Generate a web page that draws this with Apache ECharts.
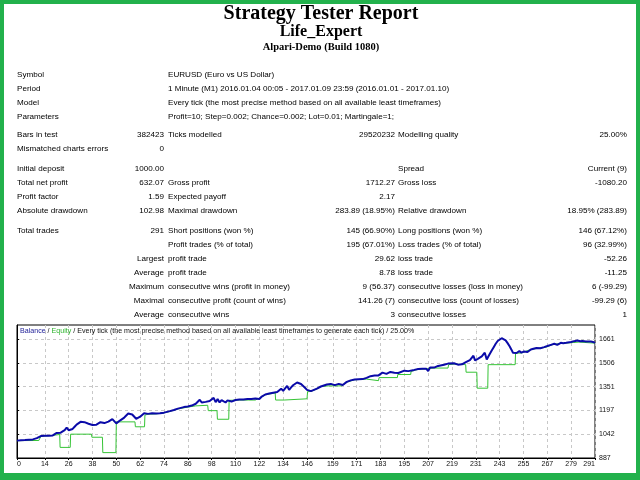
<!DOCTYPE html>
<html>
<head>
<meta charset="utf-8">
<title>Strategy Tester Report</title>
<script src="https://cdn.jsdelivr.net/npm/echarts@6/dist/echarts.min.js"></script>
<style>
    html, body { margin: 0; padding: 0; background: #fff; }
    #report { width: 640px; height: 480px; }
</style>
</head>
<body>
<div id="report"></div>
<script>
// Report header
const headerLines = ['Strategy Tester Report', 'Life_Expert', 'Alpari-Demo (Build 1080)'];

// Settings block: label / value
const settingsRows = [
    ['Symbol', 'EURUSD (Euro vs US Dollar)'],
    ['Period', '1 Minute (M1) 2016.01.04 00:05 - 2017.01.09 23:59 (2016.01.01 - 2017.01.10)'],
    ['Model', 'Every tick (the most precise method based on all available least timeframes)'],
    ['Parameters', 'Profit=10; Step=0.002; Chance=0.002; Lot=0.01; Martingale=1;']
];

// Results blocks: 6 columns (label, value, label, value, label, value)
const testRows = [
    ['Bars in test', '382423', 'Ticks modelled', '29520232', 'Modelling quality', '25.00%'],
    ['Mismatched charts errors', '0', '', '', '', '']
];
const profitRows = [
    ['Initial deposit', '1000.00', '', '', 'Spread', 'Current (9)'],
    ['Total net profit', '632.07', 'Gross profit', '1712.27', 'Gross loss', '-1080.20'],
    ['Profit factor', '1.59', 'Expected payoff', '2.17', '', ''],
    ['Absolute drawdown', '102.98', 'Maximal drawdown', '283.89 (18.95%)', 'Relative drawdown', '18.95% (283.89)']
];
const tradeRows = [
    ['Total trades', '291', 'Short positions (won %)', '145 (66.90%)', 'Long positions (won %)', '146 (67.12%)'],
    ['', '', 'Profit trades (% of total)', '195 (67.01%)', 'Loss trades (% of total)', '96 (32.99%)'],
    ['', 'Largest', 'profit trade', '29.62', 'loss trade', '-52.26'],
    ['', 'Average', 'profit trade', '8.78', 'loss trade', '-11.25'],
    ['', 'Maximum', 'consecutive wins (profit in money)', '9 (56.37)', 'consecutive losses (loss in money)', '6 (-99.29)'],
    ['', 'Maximal', 'consecutive profit (count of wins)', '141.26 (7)', 'consecutive loss (count of losses)', '-99.29 (6)'],
    ['', 'Average', 'consecutive wins', '3', 'consecutive losses', '1']
];

// Chart caption
const captionParts = ['Balance', 'Equity', 'Every tick (the most precise method based on all available least timeframes to generate each tick)', '25.00%'];

// Axis tick labels
const xTicks = [0, 14, 26, 38, 50, 62, 74, 86, 98, 110, 122, 134, 146, 159, 171, 183, 195, 207, 219, 231, 243, 255, 267, 279, 291];
const yTicks = [887, 1042, 1197, 1351, 1506, 1661];

// Balance curve: [trade number, balance]
const balance = [
    [0, 1000], [1, 1006], [2, 1003], [3, 1008], [4, 1004], [5, 1010], [6, 1006], [7, 1012], [8, 1008], [9, 1014],
    [10, 1016], [11, 1022], [12, 1030], [13, 1028], [14, 1032], [16, 1032], [17, 1036], [18, 1034], [19, 1044],
    [20, 1050], [21, 1058], [22, 1052], [23, 1062], [24, 1068], [25, 1084], [26, 1068], [27, 1058], [28, 1076],
    [29, 1090], [30, 1104], [31, 1114], [32, 1122], [33, 1124], [34, 1120], [35, 1116], [36, 1110], [37, 1100],
    [38, 1102], [39, 1106], [40, 1104], [41, 1112], [42, 1120], [43, 1128], [44, 1114], [45, 1120], [46, 1124],
    [47, 1130], [48, 1140], [49, 1152], [50, 1112], [51, 1124], [52, 1132], [53, 1140], [54, 1150], [55, 1162],
    [56, 1176], [57, 1174], [58, 1170], [59, 1160], [60, 1142], [61, 1150], [62, 1156], [63, 1168], [64, 1178],
    [65, 1176], [66, 1174], [67, 1178], [68, 1178], [70, 1176], [72, 1178], [73, 1182], [74, 1182],
    [75, 1186], [77, 1192], [79, 1199], [81, 1208], [82, 1214], [84, 1218], [86, 1222], [88, 1228], [89, 1232],
    [90, 1240], [91, 1250], [92, 1266], [93, 1248], [94, 1242], [95, 1252], [96, 1254], [97, 1258], [98, 1262],
    [99, 1278], [100, 1250], [101, 1270], [102, 1248], [103, 1264], [104, 1258], [105, 1248], [106, 1262],
    [107, 1270], [108, 1254], [109, 1260], [110, 1264], [112, 1268], [114, 1268], [116, 1270], [118, 1270],
    [120, 1274], [121, 1280], [122, 1270], [123, 1284], [125, 1300], [127, 1306], [129, 1312], [131, 1316],
    [132, 1322], [133, 1338], [134, 1324], [135, 1318], [136, 1356], [137, 1330], [138, 1346], [139, 1360],
    [140, 1370], [141, 1378], [142, 1376], [143, 1368], [144, 1356], [145, 1344], [146, 1330], [147, 1320],
    [148, 1322], [149, 1328], [151, 1338], [153, 1352], [154, 1358], [156, 1365], [158, 1369], [159, 1366],
    [160, 1361], [161, 1366], [162, 1369], [163, 1364], [164, 1362], [165, 1372], [166, 1382], [168, 1392],
    [170, 1398], [172, 1399], [174, 1400], [176, 1408], [178, 1419], [179, 1410], [180, 1424], [181, 1430],
    [182, 1424], [183, 1432], [184, 1442], [185, 1440], [186, 1434], [188, 1447], [189, 1444], [190, 1442],
    [191, 1430], [192, 1440], [193, 1447], [195, 1455], [197, 1452], [198, 1451], [200, 1460], [202, 1466],
    [204, 1468], [206, 1468], [207, 1453], [208, 1475], [210, 1475], [212, 1486], [213, 1483], [215, 1494],
    [217, 1501], [218, 1494], [220, 1503],
    [221, 1496], [222, 1494], [223, 1498], [224, 1496], [225, 1492], [226, 1511], [227, 1518], [228, 1524],
    [229, 1533], [229.8, 1552], [230.6, 1522], [232, 1532], [233, 1540], [234, 1548], [235.5, 1572],
    [236.5, 1528], [237.5, 1552], [238, 1565], [239, 1586], [240, 1608], [241, 1630], [242, 1648], [243, 1660],
    [244, 1666], [245, 1663], [246, 1652], [247, 1634], [248, 1614], [249, 1590], [249.7, 1572], [250.4, 1576],
    [251.5, 1570], [252.9, 1582], [254, 1572], [255.3, 1580], [257, 1576], [258.7, 1593], [260, 1598],
    [261.5, 1602], [263.5, 1601], [265.4, 1608], [267, 1615], [268.8, 1623], [270.5, 1630], [272, 1623],
    [273.8, 1636], [275, 1634], [276.5, 1636], [278.9, 1641], [280.5, 1647], [282.2, 1651], [283.5, 1646],
    [284.7, 1648], [286.4, 1645], [288.9, 1645], [290, 1642], [291, 1636]
];

// Equity curve: [trade number, equity]
const equity = [
    [0, 1000], [11, 1001], [12, 1028], [14, 1030], [16, 1032], [18, 1034], [21.5, 1040], [21.7, 956],
    [26.8, 956], [27, 1042], [37.5, 1042], [37.7, 1022], [43, 1022], [43.2, 922], [49.8, 922], [50, 1122],
    [59.4, 1122], [59.6, 1090], [64.2, 1090], [64.4, 1166], [66, 1172], [70, 1174], [74, 1180], [77, 1190],
    [81, 1206], [86, 1218], [90, 1226], [96, 1230], [96.3, 1195], [100.7, 1195], [100.9, 1139], [106.6, 1139],
    [106.8, 1262], [112, 1264], [116.5, 1264], [120, 1264], [120.3, 1272], [123, 1282], [125, 1298],
    [130, 1310], [130.2, 1264], [134.5, 1264], [134.7, 1272], [146, 1272], [146.3, 1318], [148, 1320],
    [151, 1336], [153, 1352], [157, 1356], [163.6, 1356], [163.8, 1362], [166, 1380], [170, 1396],
    [176, 1400], [176.3, 1390], [182, 1390], [182.3, 1410], [191.5, 1410], [191.7, 1430], [198.2, 1430],
    [198.4, 1450], [202, 1464], [206, 1466], [208, 1470], [210, 1472], [217, 1472], [217.3, 1494],
    [220, 1498], [225.9, 1494], [226.1, 1445], [231.5, 1445], [231.7, 1341], [237, 1341], [237.2, 1494],
    [250.8, 1494], [251, 1568], [254, 1570], [258, 1590], [262, 1600], [266, 1606], [270, 1626], [274, 1632],
    [280, 1638], [283, 1641], [283.3, 1634], [291, 1634]
];

const SANS = '"Liberation Sans", Arial, sans-serif';
const SERIF = '"Liberation Serif", "Times New Roman", serif';
const GREEN = '#22b14c';

function label(x, y, text, align, size, extra) {
    return Object.assign({
        type: 'text',
        x: x,
        y: y,
        silent: true,
        style: {
            text: text,
            fill: '#000',
            fontFamily: SANS,
            fontSize: size || 8.1,
            textAlign: align || 'left',
            align: align || 'left',
            textVerticalAlign: 'middle',
            verticalAlign: 'middle'
        }
    }, extra || {});
}

function buildGraphics() {
    const items = [];

    // green page frame
    items.push({ type: 'rect', silent: true, shape: { x: 0, y: 0, width: 640, height: 4 }, style: { fill: GREEN } });
    items.push({ type: 'rect', silent: true, shape: { x: 0, y: 0, width: 4, height: 480 }, style: { fill: GREEN } });
    items.push({ type: 'rect', silent: true, shape: { x: 636, y: 0, width: 4, height: 480 }, style: { fill: GREEN } });
    items.push({ type: 'rect', silent: true, shape: { x: 0, y: 473, width: 640, height: 7 }, style: { fill: GREEN } });

    // header
    const headerSizes = [20, 16, 10.5];
    const headerY = [14, 32, 47];
    headerLines.forEach((line, i) => {
        const t = label(321, headerY[i], line, 'center', headerSizes[i]);
        t.style.fontFamily = SERIF;
        t.style.fontWeight = 'bold';
        items.push(t);
    });

    // settings
    settingsRows.forEach((row, i) => {
        const y = 75 + i * 14;
        items.push(label(17, y, row[0]));
        items.push(label(168, y, row[1]));
    });

    // results tables
    const cols = [[17, 'left'], [164, 'right'], [168, 'left'], [395, 'right'], [398, 'left'], [627, 'right']];
    const blocks = [[testRows, 135], [profitRows, 169], [tradeRows, 231]];
    blocks.forEach(([rows, top]) => {
        rows.forEach((row, i) => {
            const y = top + i * 14;
            row.forEach((cell, c) => {
                if (cell) items.push(label(cols[c][0], y, cell, cols[c][1]));
            });
        });
    });

    // chart caption
    items.push({
        type: 'text',
        x: 20,
        y: 331.5,
        silent: true,
        z: 10,
        style: {
            text: '{b|' + captionParts[0] + '}{k| / }{g|' + captionParts[1] + '}{k| / ' +
                captionParts[2] + ' / ' + captionParts[3] + '}',
            fontFamily: SANS,
            fontSize: 7.1,
            textVerticalAlign: 'middle',
            verticalAlign: 'middle',
            rich: {
                b: { fill: '#1c1c96', color: '#1c1c96', fontFamily: SANS, fontSize: 7.1 },
                g: { fill: '#2fb52f', color: '#2fb52f', fontFamily: SANS, fontSize: 7.1 },
                k: { fill: '#111', color: '#111', fontFamily: SANS, fontSize: 7.1 }
            }
        }
    });

    return items;
}

const chart = echarts.init(document.getElementById('report'));

chart.setOption({
    backgroundColor: '#fff',
    animation: false,
    grid: {
        left: 17,
        top: 325,
        right: 45,
        bottom: 22,
        show: true,
        backgroundColor: 'transparent',
        borderColor: '#000',
        borderWidth: 1
    },
    xAxis: {
        type: 'value',
        min: 0,
        max: 291,
        axisLine: { show: true, onZero: false, lineStyle: { color: '#000', width: 1 } },
        axisTick: { show: true, length: 2, customValues: xTicks, lineStyle: { color: '#000' } },
        axisLabel: {
            customValues: xTicks,
            formatter: v => String(v),
            color: '#111',
            fontFamily: SANS,
            fontSize: 7,
            margin: 3,
            alignMinLabel: 'left',
            alignMaxLabel: 'right'
        },
        splitLine: { show: true, lineStyle: { color: '#c8c8c8', width: 1, type: [3, 3] } }
    },
    yAxis: {
        type: 'value',
        position: 'right',
        min: 887,
        max: 1752,
        axisLine: { show: true, lineStyle: { color: '#000', width: 1 } },
        axisTick: { show: true, length: 2, customValues: yTicks, lineStyle: { color: '#000' } },
        axisLabel: {
            customValues: yTicks,
            formatter: v => String(v),
            color: '#111',
            fontFamily: SANS,
            fontSize: 7,
            margin: 4
        },
        splitLine: { show: true, lineStyle: { color: '#c8c8c8', width: 1, type: [3, 3] } }
    },
    series: [
        {
            name: 'Equity',
            type: 'line',
            data: equity,
            showSymbol: false,
            z: 3,
            lineStyle: { color: '#36c436', width: 1 }
        },
        {
            name: 'Balance',
            type: 'line',
            data: balance,
            showSymbol: false,
            z: 4,
            lineStyle: { color: '#0a0aa8', width: 2 }
        }
    ],
    graphic: buildGraphics()
});
</script>
</body>
</html>
